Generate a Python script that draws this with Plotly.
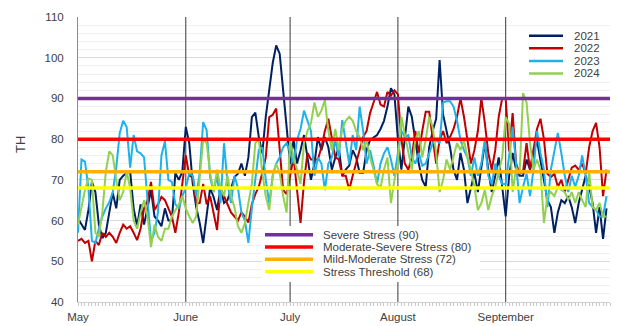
import pandas as pd
import plotly.graph_objects as go

# ---------------- data ----------------
dates = pd.date_range("2024-05-01", "2024-09-30", freq="D")

th_2021 = [
    # May
    60.5, 59, 57.7, 62.6, 69.5, 67, 59, 55.7, 57, 62, 66.8, 63, 70, 71, 71.7, 72, 63, 58.6, 64, 59,
    63, 67.5, 61, 60, 58.6, 63, 60, 60, 71.7, 70, 72,
    # June
    83, 79, 69, 63.3, 59.4, 54.5, 61, 68, 65.8, 62.6, 68, 64.3, 65, 68, 70.7, 71.5, 74, 71, 75.5, 85.4,
    86.5, 80.5, 76.5, 85.5, 92, 98.7, 103, 101, 92, 82,
    # July
    74, 79.8, 74, 77.3, 81, 75.5, 70, 74, 80.5, 77.3, 80.5, 78, 72.5, 75.5, 78, 71, 72.5, 73.5, 77.3, 75.5,
    71.7, 71.7, 77.3, 79.8, 80.5, 81, 82.5, 84.5, 88, 92.5, 91,
    # August
    80, 72.5, 79.8, 88, 85.5, 79.8, 74, 70, 68.3, 78, 82, 85, 99.4, 86, 82, 78, 72.5, 70, 76.6, 72.5,
    64.3, 68.3, 71.7, 67, 72.5, 79, 72.5, 67, 71, 75.5, 68.3,
    # September
    61, 71, 76.6, 72.5, 71, 71, 75, 72.5, 76.6, 79.8, 75, 70, 65, 63.3, 57, 62, 65, 64.3, 66, 63.3,
    59.4, 64.3, 67.5, 71, 68.3, 64.3, 57, 63.3, 55.5, 63,
]

th_2022 = [
    # May
    55, 55.5, 54.5, 55, 50, 55, 54, 57, 56, 57, 56, 54.5, 57, 59, 58, 58.6, 57, 55.2, 58, 63,
    65, 69.5, 62.6, 64, 65.8, 65, 63, 61, 57, 62, 69,
    # June
    76, 71, 70.7, 64.3, 64.3, 69, 64, 66, 61.6, 57.7, 68, 66, 64, 62, 61, 60, 62, 61, 59.5, 64,
    66.5, 68.3, 71.7, 75.5, 85.4, 86, 87.5, 77.3, 67.5, 66.5,
    # July
    70.7, 75.5, 67.5, 59.4, 69.5, 76.6, 75, 75, 75, 78, 82, 85, 79.8, 75.5, 75, 71, 71, 67.5, 71, 74,
    77.3, 80.5, 82, 86.4, 89, 91.6, 88.5, 88, 91.6, 90.7, 92,
    # August
    91, 80, 74, 72.5, 75.5, 82, 76.6, 82, 86.7, 86.7, 79.8, 74, 79.8, 82, 79, 80.5, 82.5, 85.5, 90, 85.5,
    79.8, 74, 77.3, 82, 90, 84, 76.6, 72.5, 77.3, 85.5, 90,
    # September
    90, 77, 86.4, 74, 71.5, 72, 79, 72.5, 78, 82.5, 85, 80, 71.5, 70.7, 71.5, 68.3, 70, 67, 70, 73,
    73.5, 72.5, 74, 71.5, 78, 82, 84, 78, 66, 72.5,
]

th_2023 = [
    # May
    57, 75, 74.5, 68, 55, 54.5, 58, 61, 63, 64.5, 67, 73, 81.5, 84.5, 83, 73, 81, 77, 76.5, 75.5,
    65, 55, 57, 62, 76, 79.5, 70, 69.5, 64, 63, 66,
    # June
    68, 71.7, 71, 66, 71.7, 84.2, 82.2, 70.7, 67, 71, 64.3, 79, 69, 64.3, 71, 68, 62, 60, 54.5, 63,
    71, 77.3, 78, 70, 64.3, 71, 74, 75.5, 78, 79,
    # July
    77, 74, 79.8, 82.5, 87, 84.7, 82, 71, 75.5, 74, 67.5, 74, 75.5, 79.8, 75.5, 84.7, 79.8, 74, 81, 77.3,
    88, 82, 74, 77.3, 73.5, 69, 74, 76.5, 78, 75, 71,
    # August
    77, 82, 80.5, 81, 75.5, 74, 76.6, 73.5, 74, 76.6, 79, 79.8, 79, 89, 89.3, 89.3, 88, 84.5, 79.8, 77.3,
    75.5, 71, 75.5, 71, 74, 79.8, 71, 69, 74, 71, 69,
    # September
    69, 75.5, 83, 74, 64.3, 68.3, 71.5, 66, 72.5, 82, 76.6, 72.5, 63.3, 72.5, 76.6, 81.5, 76.6, 71, 67, 71,
    68.3, 71, 76, 71, 64.3, 63.3, 62.6, 61, 61, 66,
]

th_2024 = [
    # May
    59, 63, 67.5, 70.3, 70, 57, 56, 62, 72, 77, 76, 70, 65, 67, 72, 68, 60, 58, 62, 65,
    61, 53.5, 59, 56, 55, 58, 58, 61, 62.6, 64, 66,
    # June
    63, 61, 59.4, 61, 71, 80, 79, 71.7, 67, 72.5, 68, 66, 71, 66, 63.3, 58.6, 57, 59.4, 64.3, 69,
    79, 80, 71.7, 66, 62.6, 71, 74, 71.7, 66, 62,
    # July
    79.8, 75.5, 72.5, 69, 79, 82, 84, 89, 85.5, 87, 89.6, 82, 77.3, 82.5, 77.3, 82.5, 84.5, 85.5, 84.5, 82,
    80.5, 77.3, 79.8, 75.5, 72.5, 69, 68, 72.5, 75.5, 64.3, 70,
    # August
    74, 85.5, 81, 76.6, 72.5, 79.8, 82, 75.5, 79.8, 85.5, 83, 76.6, 67, 70, 75, 72.5, 75.5, 79, 77.3, 79.8,
    75.5, 72.5, 68.3, 62.6, 64.3, 67.5, 62.6, 66, 68.3, 71.7, 75.5,
    # September
    85.4, 83.7, 67, 73, 71.5, 91.3, 89, 79, 72.5, 75, 72.5, 59.4, 66, 67, 66, 68.3, 67.5, 67, 65, 67,
    64.3, 67, 65, 63.3, 72, 63.3, 62.6, 64.3, 61, 61,
]

year_names = ["2021", "2022", "2023", "2024"]
year_colors = ["#002060", "#C00000", "#1EB1EC", "#92D050"]

threshold_values = [90, 80, 72, 68]
threshold_names = ["Severe Stress (90)", "Moderate-Severe Stress (80)",
                   "Mild-Moderate Stress (72)", "Stress Threshold (68)"]
threshold_colors = ["#7030A0", "#FF0000", "#FFB000", "#FFFF00"]

month_starts = ["2024-05-01", "2024-06-01", "2024-07-01", "2024-08-01", "2024-09-01"]
month_labels = ["May", "June", "July", "August", "September"]
x_range = ["2024-05-01", "2024-10-01"]
y_range = [40, 110]

series = [th_2021, th_2022, th_2023, th_2024]
for s in series:
    assert len(s) == len(dates), [len(x) for x in series]

# ---------------- figure ----------------
FONT = "Liberation Sans, Arial, sans-serif"
TXT = "#404040"

fig = go.Figure()

# month separator lines (drawn first, under the data)
sep_x, sep_y = [], []
for d in month_starts[1:]:
    sep_x += [d, d, None]
    sep_y += [y_range[0], y_range[1], None]
fig.add_trace(go.Scatter(x=sep_x, y=sep_y, mode="lines", line=dict(color="#3A3A3A", width=1),
                         hoverinfo="skip", showlegend=False))

for name, vals, color in zip(year_names, series, year_colors):
    fig.add_trace(go.Scatter(x=dates, y=vals, mode="lines", name=name,
                             line=dict(color=color, width=2), showlegend=False))
for name, v, color in zip(threshold_names, threshold_values, threshold_colors):
    fig.add_trace(go.Scatter(x=x_range, y=[v, v], mode="lines", name=name,
                             line=dict(color=color, width=3.5), showlegend=False))

# plot area in pixels (for placing the hand-made legends)
L, R, T, B = 78, 7, 17, 24
W, H = 617, 326
pw, ph = W - L - R, H - T - B


def px_x(px):
    return (px - L) / pw


def px_y(py):
    return (H - B - py) / ph


shapes = []
annotations = []


def add_legend(names, colors, box, x_line, x_text, y_first, step, lw):
    shapes.append(dict(type="rect", xref="paper", yref="paper",
                       x0=px_x(box[0]), x1=px_x(box[1]), y0=px_y(box[3]), y1=px_y(box[2]),
                       fillcolor="white", line=dict(width=0), layer="above"))
    for i, (n, c) in enumerate(zip(names, colors)):
        yy = px_y(y_first + i * step)
        shapes.append(dict(type="line", xref="paper", yref="paper",
                           x0=px_x(x_line[0]), x1=px_x(x_line[1]), y0=yy, y1=yy,
                           line=dict(color=c, width=lw), layer="above"))
        annotations.append(dict(xref="paper", yref="paper", x=px_x(x_text), y=yy, text=n,
                                showarrow=False, xanchor="left", yanchor="middle", borderpad=0,
                                font=dict(family=FONT, size=11.5, color=TXT)))


add_legend(year_names, year_colors, (508, 610, 26, 81), (529, 563), 573, 35.7, 12.6, 2.5)
add_legend(threshold_names, threshold_colors, (262, 480, 226, 282), (265, 313), 322, 234.7, 12.3, 3.5)

annotations.append(dict(xref="paper", yref="paper", x=px_x(20), y=px_y(145), text="TH",
                        textangle=-90, showarrow=False, xanchor="center", yanchor="middle",
                        font=dict(family=FONT, size=13, color=TXT)))

fig.update_layout(
    width=W, height=H,
    margin=dict(l=L, r=R, t=T, b=B, pad=0, autoexpand=False),
    paper_bgcolor="white", plot_bgcolor="white",
    font=dict(family=FONT, size=11.5, color=TXT),
    showlegend=False,
    shapes=shapes,
    annotations=annotations,
)
fig.update_xaxes(
    type="date", range=x_range, automargin=False,
    tickmode="array", tickvals=month_starts, ticktext=month_labels,
    showgrid=False, zeroline=False, ticks="",
    showline=True, linecolor="#D0D0D0", linewidth=1,
    ticklabelstandoff=4,
    minor=dict(ticks="outside", ticklen=3, tickcolor="#C8C8C8", tickwidth=1,
               dtick=86400000, tick0="2024-05-01", showgrid=False),
)
fig.update_yaxes(
    range=y_range, tickmode="linear", tick0=40, dtick=10, automargin=False,
    showgrid=True, gridcolor="#D9D9D9", gridwidth=1, zeroline=False,
    showline=True, linecolor="#8C8C8C", linewidth=1, ticks="",
    ticklabelstandoff=11,
    minor=dict(dtick=2, tick0=40, showgrid=True, gridcolor="#EFEFEF", gridwidth=1),
)

fig.write_html("out.html", config={"displayModeBar": False},
               post_script="document.body.style.margin='0';")
